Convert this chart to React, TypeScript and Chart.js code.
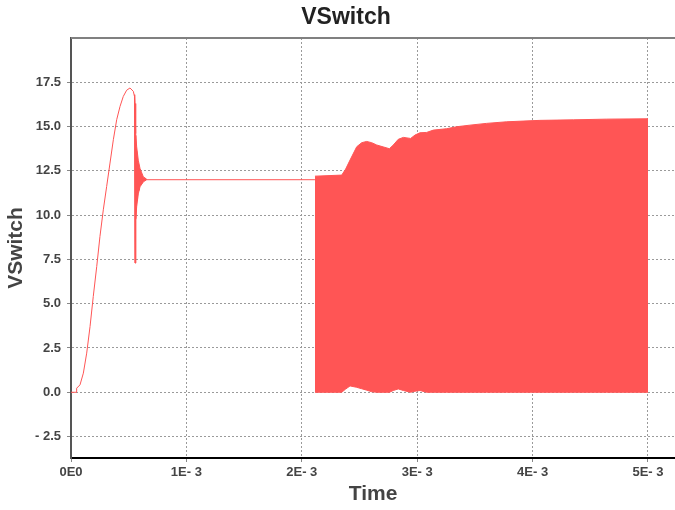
import React, { useEffect, useRef } from 'react';
import { Chart, registerables } from 'chart.js';

Chart.register(...registerables);

// Time values are in milliseconds (axis labelled in E-3 seconds)
const riseTime = [0, 0.045, 0.049, 0.078, 0.107, 0.136, 0.165, 0.193, 0.223, 0.251, 0.28, 0.309, 0.338, 0.367, 0.396, 0.425, 0.453, 0.482, 0.511, 0.54, 0.55];
const riseV = [0, 0, 0.23, 0.42, 1.08, 2.21, 3.71, 5.41, 7.1, 8.8, 10.3, 11.62, 12.94, 14.26, 15.39, 16.14, 16.7, 17.05, 17.18, 16.99, 16.7];

const ringTime = [0.555, 0.559, 0.563, 0.569, 0.576, 0.583, 0.59, 0.6, 0.615, 0.635, 0.656, 2.114];
const ringV = [7.3, 14.5, 9.8, 13.6, 10.8, 12.9, 11.4, 12.5, 11.8, 12.1, 12.0, 12.0];

const ringEnvTime = [0.552, 0.555, 0.558, 0.563, 0.569, 0.583, 0.598, 0.627, 0.656];
const ringEnvHigh = [16.8, 16.3, 15.3, 14.6, 13.86, 13.1, 12.64, 12.16, 12.03];
const ringEnvLow = [16.8, 7.3, 8.6, 9.7, 10.47, 11.2, 11.6, 11.88, 12.0];

const switchTime = [2.114, 2.346, 2.38, 2.418, 2.476, 2.519, 2.562, 2.606, 2.649, 2.759, 2.793, 2.836, 2.88, 2.943, 2.981, 3.024, 3.082, 3.14, 3.256, 3.342, 3.457, 3.6, 3.775, 4.064, 4.353, 4.642, 5.0];
const switchHigh = [12.2, 12.26, 12.6, 13.11, 13.86, 14.09, 14.16, 14.09, 13.96, 13.75, 13.96, 14.28, 14.39, 14.33, 14.52, 14.65, 14.67, 14.8, 14.88, 14.99, 15.08, 15.18, 15.27, 15.35, 15.38, 15.42, 15.44];
const switchLow = [0, 0, 0.18, 0.36, 0.28, 0.2, 0.12, 0.03, 0, 0, 0.1, 0.19, 0.1, 0, 0.06, 0.1, 0, 0, 0, 0, 0, 0, 0, 0, 0, 0, 0];

const yTickValues = [-2.5, 0, 2.5, 5, 7.5, 10, 12.5, 15, 17.5];
const xTickValues = [0, 1, 2, 3, 4, 5];

const RED = '#ff5555';
const FONT = '"Liberation Sans", Arial, sans-serif';

const pts = (xs: number[], ys: number[]) => xs.map((x, i) => ({ x, y: ys[i] }));

export default function App() {
  const ref = useRef<HTMLCanvasElement | null>(null);

  useEffect(() => {
    if (!ref.current) return;
    Chart.defaults.font.family = FONT;

    const frame = {
      id: 'frame',
      afterDraw(chart: any) {
        const { ctx, chartArea } = chart;
        ctx.save();
        ctx.strokeStyle = '#808080';
        ctx.lineWidth = 2;
        ctx.beginPath();
        ctx.moveTo(chartArea.left, chartArea.top);
        ctx.lineTo(chart.width, chartArea.top);
        ctx.stroke();
        ctx.font = `bold 23px ${FONT}`;
        ctx.fillStyle = '#222';
        ctx.textAlign = 'center';
        ctx.textBaseline = 'middle';
        ctx.fillText('VSwitch', 346, 18);
        ctx.restore();
      },
    };

    const chart = new Chart(ref.current, {
      type: 'line',
      data: {
        datasets: [
          {
            data: pts([...riseTime, ...ringTime], [...riseV, ...ringV]),
            borderColor: RED,
            borderWidth: 1,
            pointRadius: 0,
            fill: false,
            tension: 0,
          },
          {
            data: pts(ringEnvTime, ringEnvHigh),
            borderColor: RED,
            backgroundColor: RED,
            borderWidth: 1,
            pointRadius: 0,
            fill: '+1',
            tension: 0,
          },
          {
            data: pts(ringEnvTime, ringEnvLow),
            borderColor: RED,
            borderWidth: 1,
            pointRadius: 0,
            fill: false,
            tension: 0,
          },
          {
            data: pts(switchTime, switchHigh),
            borderColor: RED,
            backgroundColor: RED,
            borderWidth: 1,
            pointRadius: 0,
            fill: '+1',
            tension: 0,
          },
          {
            data: pts(switchTime, switchLow),
            borderColor: RED,
            borderWidth: 1,
            pointRadius: 0,
            fill: false,
            tension: 0,
          },
        ],
      },
      options: {
        animation: false,
        responsive: false,
        layout: { padding: { top: 38, left: 0, right: 0, bottom: 0 } },
        plugins: {
          legend: { display: false },
          tooltip: { enabled: false },
          title: { display: false },
        },
        scales: {
          x: {
            type: 'linear',
            min: 0,
            max: 5.234,
            afterFit: (s: any) => { s.height = 52; },
            afterBuildTicks: (s: any) => { s.ticks = xTickValues.map((value) => ({ value })); },
            ticks: {
              autoSkip: false,
              maxRotation: 0,
              padding: 3,
              color: '#444',
              font: { size: 13, weight: 'bold', family: FONT },
              callback: (v: any) => (Number(v) === 0 ? '0E0' : `${Number(v)}E- 3`),
            },
            grid: {
              color: '#9a9a9a',
              lineWidth: 1,
              tickLength: 4,
              tickColor: '#888',
              tickBorderDash: [],
            },
            border: { display: true, color: '#000', width: 2, dash: [2, 2] },
            title: {
              display: true,
              text: 'Time',
              color: '#444',
              font: { size: 21, weight: 'bold', family: FONT },
              padding: { top: 0, bottom: 3 },
            },
          },
          y: {
            type: 'linear',
            min: -3.71,
            max: 20.0,
            afterFit: (s: any) => { s.width = 71; },
            afterBuildTicks: (s: any) => { s.ticks = yTickValues.map((value) => ({ value })); },
            ticks: {
              padding: 6,
              color: '#444',
              font: { size: 13, weight: 'bold', family: FONT },
              callback: (v: any) => {
                const n = Number(v);
                return n < 0 ? `- ${Math.abs(n).toFixed(1)}` : n.toFixed(1);
              },
            },
            grid: {
              color: '#9a9a9a',
              lineWidth: 1,
              tickLength: 4,
              tickColor: '#888',
              tickBorderDash: [],
            },
            border: { display: true, color: '#555', width: 2, dash: [2, 2] },
            title: {
              display: true,
              text: 'VSwitch',
              color: '#444',
              font: { size: 21, weight: 'bold', family: FONT },
              padding: { top: 4, bottom: 0 },
            },
          },
        },
      } as any,
      plugins: [frame],
    });

    return () => chart.destroy();
  }, []);

  return (
    <div style={{ position: 'absolute', left: 0, top: 0, width: 675, height: 510, background: '#fff' }}>
      <canvas ref={ref} width={675} height={510} style={{ display: 'block', width: 675, height: 510 }} />
    </div>
  );
}
